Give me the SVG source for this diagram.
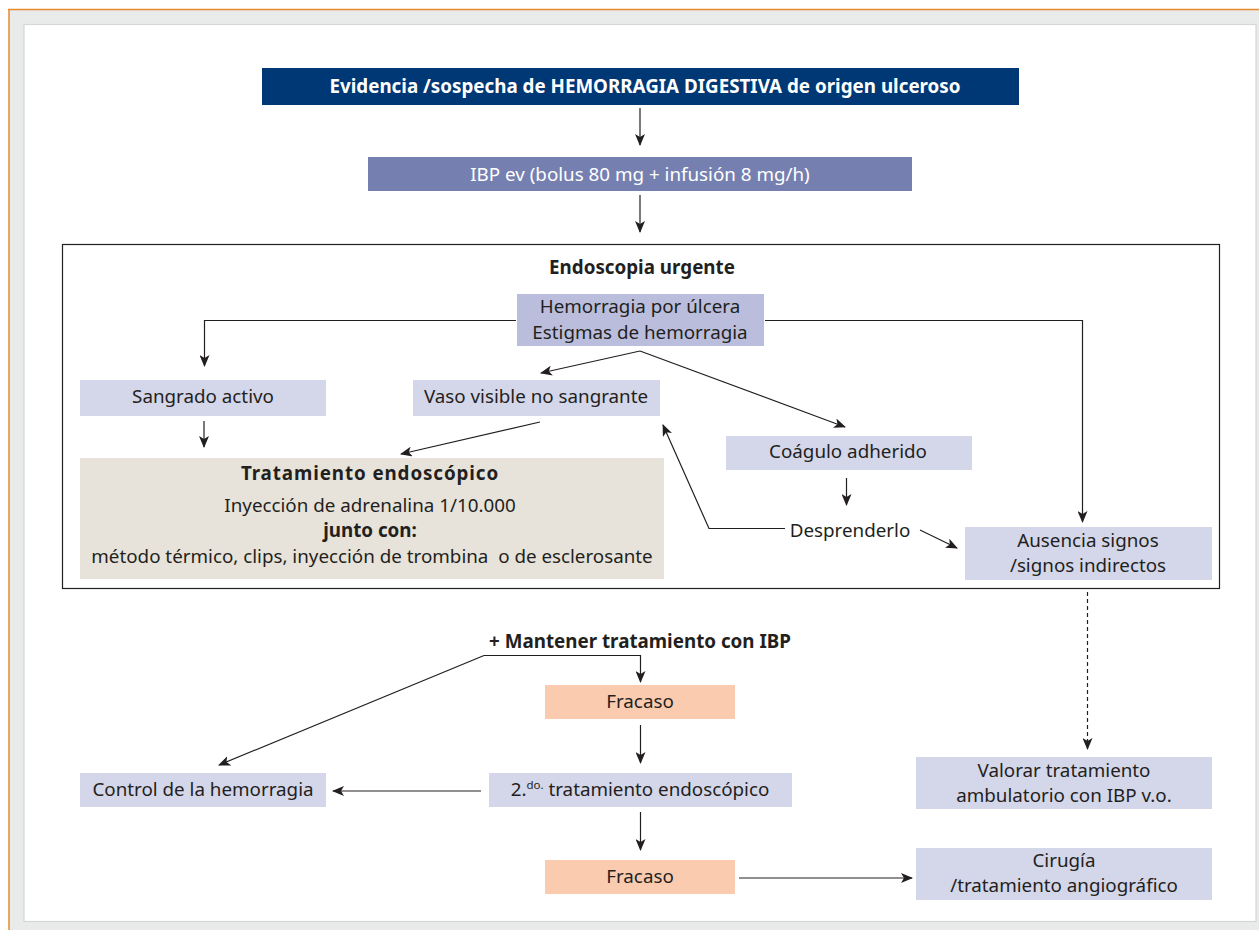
<svg xmlns="http://www.w3.org/2000/svg" width="1259" height="930" viewBox="0 0 1259 930">
<style>
text{font-family:"Noto Sans","Liberation Sans",sans-serif;fill:#231f20;text-anchor:middle;font-size:18.8px}
.b{font-weight:bold}
.w{fill:#fff}
.lav{fill:#d4d6ea}
.ln{fill:none;stroke:#231f20;stroke-width:1.2}
</style>
<defs>
<marker id="ah" viewBox="0 0 12 10" refX="11" refY="5" markerWidth="12" markerHeight="10" markerUnits="userSpaceOnUse" orient="auto">
<path d="M0,0 L12,5 L0,10 L3,5 z" fill="#231f20"/>
</marker>
</defs>
<rect x="0" y="0" width="1259" height="930" fill="#fff"/>
<rect x="9" y="10" width="1250" height="920" fill="#e9eaea"/>
<line x1="8" y1="9.5" x2="1259" y2="9.5" stroke="#e8892f" stroke-width="1.5"/>
<line x1="9" y1="9" x2="9" y2="930" stroke="#e8892f" stroke-width="1.5"/>
<rect x="24" y="24.5" width="1232" height="897" fill="#fff" stroke="#d5d6d6" stroke-width="1.2"/>
<rect id="endoscopia" x="62.5" y="244.5" width="1157" height="344" fill="none" stroke="#231f20" stroke-width="1.2"/>
<text class="b" x="642" y="274" font-size="18">Endoscopia urgente</text>
<g id="n-title"><rect x="262" y="68" width="757" height="37" fill="#003876"/><text class="b w" x="645" y="93" font-size="17.8">Evidencia /sospecha de HEMORRAGIA DIGESTIVA de origen ulceroso</text></g>
<g id="n-ibp"><rect x="368" y="157" width="544" height="34" fill="#7680b0"/><text class="w" x="640" y="181">IBP ev (bolus 80 mg + infusión 8 mg/h)</text></g>
<g id="n-hemorragia"><rect x="517" y="294" width="247" height="52" fill="#babedc"/><text x="640" y="313">Hemorragia por úlcera</text><text x="640" y="339">Estigmas de hemorragia</text></g>
<g id="n-sangrado"><rect x="80" y="380" width="246" height="36" class="lav"/><text x="203" y="403">Sangrado activo</text></g>
<g id="n-vaso"><rect x="413" y="380" width="247" height="36" class="lav"/><text x="536" y="403">Vaso visible no sangrante</text></g>
<g id="n-coagulo"><rect x="726" y="436" width="246" height="34" class="lav"/><text x="848" y="458">Coágulo adherido</text></g>
<g id="n-desprenderlo"><text x="850" y="537">Desprenderlo</text></g>
<g id="n-tratamiento"><rect x="80" y="458" width="584" height="121" fill="#e7e3da"/><text class="b" x="370" y="480" font-size="24" letter-spacing="0.9">Tratamiento endoscópico</text><text x="370" y="512">Inyección de adrenalina 1/10.000</text><text class="b" x="370" y="537">junto con:</text><text x="372" y="563" xml:space="preserve">método térmico, clips, inyección de trombina  o de esclerosante</text></g>
<g id="n-ausencia"><rect x="965" y="527" width="247" height="53" class="lav"/><text x="1088" y="547">Ausencia signos</text><text x="1088" y="572">/signos indirectos</text></g>
<g id="n-mantener"><text class="b" x="640" y="648" font-size="17.8">+ Mantener tratamiento con IBP</text></g>
<g id="n-fracaso1"><rect x="545" y="685" width="190" height="34" fill="#fbcbb0"/><text x="640" y="708">Fracaso</text></g>
<g id="n-segundo"><rect x="489" y="773" width="303" height="34" class="lav"/><text x="640" y="796">2.<tspan font-size="11.5" dy="-7">do.</tspan><tspan dy="7"> tratamiento endoscópico</tspan></text></g>
<g id="n-control"><rect x="80" y="773" width="246" height="34" class="lav"/><text x="203" y="796">Control de la hemorragia</text></g>
<g id="n-fracaso2"><rect x="545" y="860" width="190" height="34" fill="#fbcbb0"/><text x="640" y="883">Fracaso</text></g>
<g id="n-valorar"><rect x="916" y="757" width="296" height="52" class="lav"/><text x="1064" y="777">Valorar tratamiento</text><text x="1064" y="802">ambulatorio con IBP v.o.</text></g>
<g id="n-cirugia"><rect x="916" y="848" width="296" height="52" class="lav"/><text x="1064" y="867">Cirugía</text><text x="1064" y="892">/tratamiento angiográfico</text></g>
<g id="connectors" class="ln" marker-end="url(#ah)">
<path d="M640,108 V145"/>
<path d="M640,195 V232"/>
<path d="M516,320.5 H204.5 V366"/>
<path d="M765,320.5 H1082.5 V522"/>
<path d="M640,351 L541,373"/>
<path d="M640,351 L845,427"/>
<path d="M204,421 V447"/>
<path d="M540,422 L401,454"/>
<path d="M846.5,478 V505"/>
<path d="M785,528.5 H709 L663,425"/>
<path d="M920,530 L957,548"/>
<path d="M1087.5,592 V749" stroke-dasharray="4,3"/>
<path d="M484,655.5 H640.5 V682"/>
<path d="M484,655.5 L219,765"/>
<path d="M640.5,725 V763"/>
<path d="M481,791 H333"/>
<path d="M640.5,812 V850"/>
<path d="M739,878 H912"/>
</g>
</svg>
